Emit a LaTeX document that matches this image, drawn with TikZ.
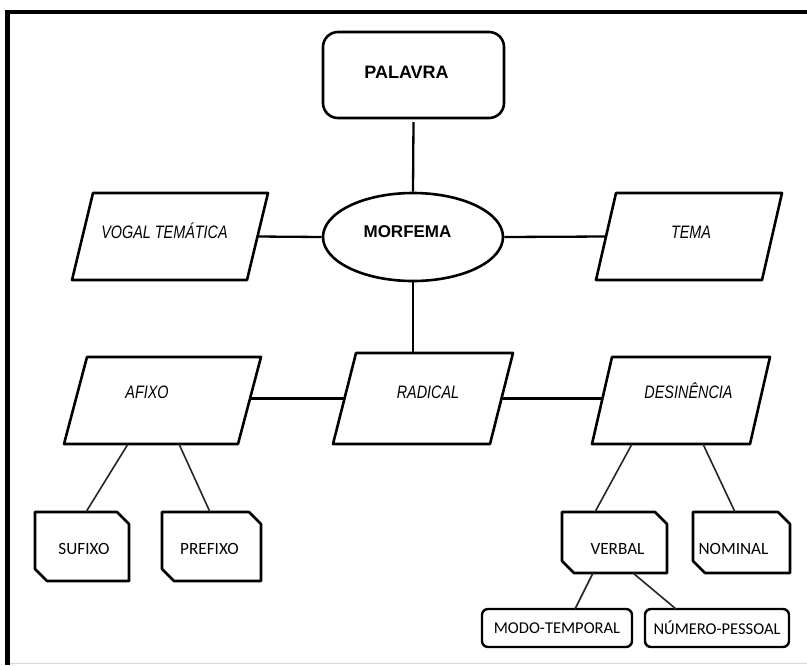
\documentclass[tikz,border=0pt]{standalone}
\usepackage{fontspec}
\setmainfont{Liberation Sans}
\newfontfamily\narrowfont[FakeStretch=0.80]{Liberation Sans}
\newfontfamily\calfont{Carlito}
\usetikzlibrary{shapes.geometric}

\tikzset{
  hidden/.style={draw=none, inner sep=0pt, outer sep=0pt},
  outline/.style={line width=2.6pt, line join=round},
  conn/.style={line width=2.3pt},
  diag/.style={line width=1.6pt, draw=black!85},
  headfont/.style={font=\bfseries\fontsize{18}{20}\selectfont},
  morffont/.style={font=\bfseries\fontsize{17}{19}\selectfont},
  itfont/.style={font=\narrowfont\itshape\fontsize{18}{20}\selectfont},
  calibfont/.style={font=\calfont\fontsize{17.2}{19}\selectfont},
  smallcal/.style={font=\calfont\fontsize{16.5}{18}\selectfont},
  roundbox/.style={draw, line width=2.4pt, rounded corners=6pt, inner sep=0pt, outer sep=0pt}
}

\newcommand\drawpara[2]{%
  \draw[outline] ([xshift=#2pt]#1.north west) -- ([xshift=#2pt]#1.north east)
    -- ([xshift=-#2pt]#1.south east) -- ([xshift=-#2pt]#1.south west) -- cycle;}
\newcommand\drawsnip[1]{%
  \draw[outline] (#1.north west) -- ([xshift=-12pt]#1.north east)
    -- ([yshift=-12pt]#1.north east) -- (#1.south east)
    -- ([xshift=12pt]#1.south west) -- ([yshift=12pt]#1.south west) -- cycle;}

\begin{document}
\begin{tikzpicture}[x=1pt,y=-1pt]
\useasboundingbox (0,0) rectangle (807,665);
\fill[white] (0,0) rectangle (807,665);

% frame
\draw[line width=4.4pt, line join=miter] (7.5,665) -- (7.5,11.7) -- (807,11.7);
\draw[black!15, line width=1pt] (10,663.5) -- (807,663.5);

% PALAVRA
\node[hidden, draw, line width=2.6pt, rounded corners=15pt, minimum width=181pt, minimum height=86pt,
  label={[headfont, xshift=-7pt, yshift=3pt]center:PALAVRA}] (palavra) at (413.5,75) {};

% MORFEMA
\node[ellipse, draw, line width=2.6pt, inner sep=0pt, minimum width=180pt, minimum height=88pt,
  label={[morffont, xshift=-5.5pt, yshift=5.5pt]center:MORFEMA}] (morfema) at (413,237) {};

% parallelograms
\node[hidden, minimum width=175pt, minimum height=87pt,
  label={[itfont, xshift=-5.5pt, yshift=5.5pt]center:VOGAL TEMÁTICA}] (vogal) at (170,236.5) {};
\drawpara{vogal}{10.5}
\node[hidden, minimum width=166pt, minimum height=87pt,
  label={[itfont, xshift=2pt, yshift=4.5pt]center:TEMA}] (tema) at (689,236.5) {};
\drawpara{tema}{10}
\node[hidden, minimum width=157pt, minimum height=91pt,
  label={[itfont, xshift=5pt, yshift=6.5pt]center:RADICAL}] (radical) at (423,398.5) {};
\drawpara{radical}{11.5}
\node[hidden, minimum width=174pt, minimum height=87pt,
  label={[itfont, xshift=-15.5pt, yshift=8.5pt]center:AFIXO}] (afixo) at (162.5,400.5) {};
\drawpara{afixo}{11.5}
\node[hidden, minimum width=158pt, minimum height=87pt,
  label={[itfont, xshift=7.5pt, yshift=9.5pt]center:DESINÊNCIA}] (desinencia) at (681,400.5) {};
\drawpara{desinencia}{10}

% snipped boxes
\node[hidden, minimum width=94pt, minimum height=69pt,
  label={[calibfont, xshift=2pt, yshift=-2.5pt]center:SUFIXO}] (sufixo) at (82,546.5) {};
\drawsnip{sufixo}
\node[hidden, minimum width=99pt, minimum height=69pt,
  label={[calibfont, xshift=-2pt, yshift=-2.5pt]center:PREFIXO}] (prefixo) at (211.5,546.5) {};
\drawsnip{prefixo}
\node[hidden, minimum width=105pt, minimum height=61pt,
  label={[calibfont, xshift=3pt, yshift=-6.5pt]center:VERBAL}] (verbal) at (614.5,542.5) {};
\drawsnip{verbal}
\node[hidden, minimum width=97pt, minimum height=61pt,
  label={[calibfont, xshift=-8pt, yshift=-6.5pt]center:NOMINAL}] (nominal) at (741.5,542.5) {};
\drawsnip{nominal}

% rounded bottom boxes
\node[roundbox, minimum width=150pt, minimum height=38pt, smallcal] (modo) at (557,628) {MODO-TEMPORAL};
\node[roundbox, minimum width=144pt, minimum height=38pt, smallcal] (numero) at (717,628) {NÚMERO-PESSOAL};

% connectors
\draw[conn] ([yshift=-4pt]palavra.south) -- (morfema.north);
\draw[conn] (vogal.east) -- (morfema.west);
\draw[conn] (morfema.east) -- (tema.west);
\draw[conn] (morfema.south) -- (morfema.south |- radical.north);
\draw[conn] (afixo.east |- radical.west) -- (radical.west);
\draw[conn] (radical.east) -- (radical.east -| desinencia.west);

\draw[diag] ([xshift=-34.5pt]afixo.south) -- ([xshift=4pt]sufixo.north);
\draw[diag] ([xshift=16.5pt]afixo.south) -- ([xshift=-1.5pt]prefixo.north);
\draw[diag] ([xshift=-49pt]desinencia.south) -- ([xshift=-19.5pt]verbal.north);
\draw[diag] ([xshift=22pt]desinencia.south) -- ([xshift=-6.5pt]nominal.north);
\draw[diag] ([xshift=-21.5pt]verbal.south) -- ([xshift=18pt]modo.north);
\draw[diag] ([xshift=18.5pt]verbal.south) -- ([xshift=-41pt]numero.north);
\end{tikzpicture}
\end{document}
